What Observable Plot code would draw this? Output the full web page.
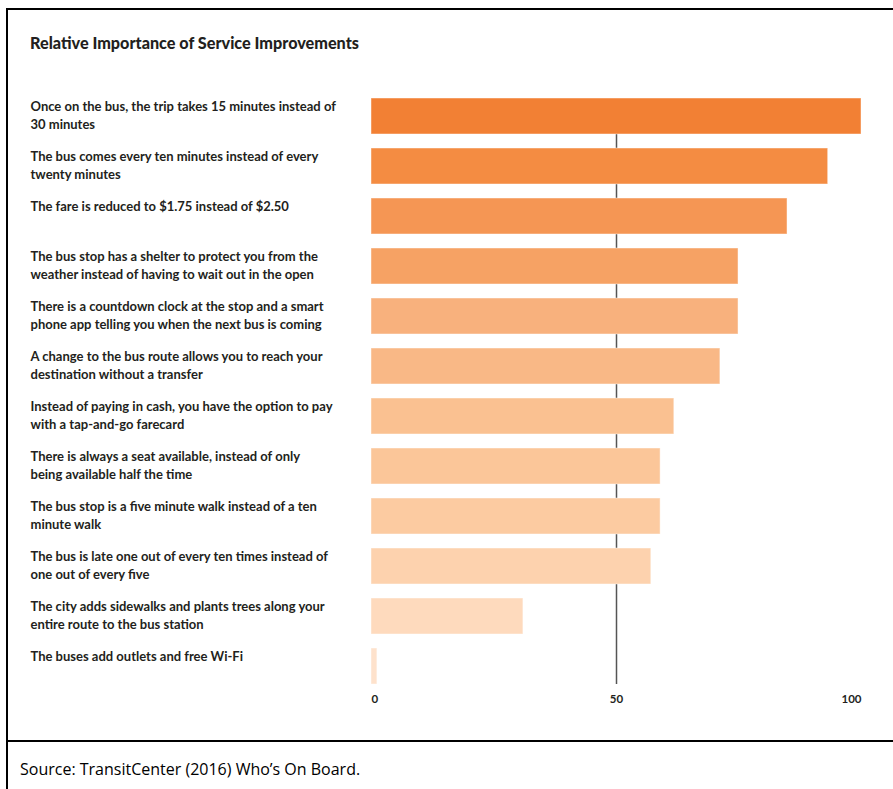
<!DOCTYPE html>
<html>
<head>
<meta charset="utf-8">
<script src="https://cdn.jsdelivr.net/npm/d3@7"></script>
<script src="https://cdn.jsdelivr.net/npm/@observablehq/plot@0.6"></script>
<style>
  html, body { margin: 0; padding: 0; background: #fff; }
  #page { position: relative; width: 893px; height: 789px; overflow: hidden; background: #fff; }
  .border-left { position: absolute; left: 6px; top: 8px; width: 2px; height: 781px; background: #000; }
  .border-top { position: absolute; left: 6px; top: 8px; width: 887px; height: 2px; background: #000; }
  .sep { position: absolute; left: 6px; top: 740px; width: 887px; height: 2px; background: #000; }
  #title { position: absolute; left: 30px; top: 33px; line-height: 20px; font-family: Lato, sans-serif; font-weight: 900; font-size: 16.2px; color: #231f20; }
  #source { position: absolute; left: 20px; top: 758px; font-family: "Open Sans", sans-serif; font-size: 16px; color: #000; }
  #chart { position: absolute; left: 0; top: 60px; }
</style>
</head>
<body>
<div id="page">
  <div class="border-left"></div>
  <div class="border-top"></div>
  <div class="sep"></div>
  <div id="title">Relative Importance of Service Improvements</div>
  <div id="chart"></div>
  <div id="source">Source: TransitCenter (2016) Who’s On Board.</div>
</div>
<script>
const labels = [
  "Once on the bus, the trip takes 15 minutes instead of\n30 minutes",
  "The bus comes every ten minutes instead of every\ntwenty minutes",
  "The fare is reduced to $1.75 instead of $2.50",
  "The bus stop has a shelter to protect you from the\nweather instead of having to wait out in the open",
  "There is a countdown clock at the stop and a smart\nphone app telling you when the next bus is coming",
  "A change to the bus route allows you to reach your\ndestination without a transfer",
  "Instead of paying in cash, you have the option to pay\nwith a tap-and-go farecard",
  "There is always a seat available, instead of only\nbeing available half the time",
  "The bus stop is a five minute walk instead of a ten\nminute walk",
  "The bus is late one out of every ten times instead of\none out of every five",
  "The city adds sidewalks and plants trees along your\nentire route to the bus station",
  "The buses add outlets and free Wi-Fi"
];
const values = [100, 93.2, 84.9, 74.9, 74.9, 71.2, 61.8, 59.0, 59.0, 57.1, 31.0, 1.2];
const colors = ["#F28034", "#F48C42", "#F59654", "#F6A264", "#F8B17D", "#F9B886",
                "#FAC191", "#FBC699", "#FCCBA1", "#FDD2AE", "#FEDABD", "#FEE2CC"];
const tickValues = [0, 50, 100];
const tickLabels = ["0", "50", "100"];

const data = labels.map((label, i) => ({label, value: values[i], color: colors[i]}));
const ticks = tickValues.map((v, i) => ({v, t: tickLabels[i], anchor: i === 0 ? "start" : i === tickValues.length - 1 ? "end" : "middle"}));

const chart = Plot.plot({
  width: 893,
  height: 654,
  marginLeft: 371,
  marginRight: 32,
  marginTop: 38,
  marginBottom: 30,
  style: {fontFamily: "Lato, sans-serif", background: "transparent", overflow: "visible"},
  x: {domain: [0, 100], axis: null},
  y: {domain: labels, axis: null, paddingInner: 0.28, paddingOuter: 0},
  marks: [
    Plot.ruleX([50], {stroke: "#555", strokeWidth: 1.5}),
    Plot.barX(data, {y: "label", x: "value", fill: "color", stroke: "#fff", strokeOpacity: 0.45, strokeWidth: 1}),
    Plot.text(data, {
      y: "label", text: "label", frameAnchor: "left", textAnchor: "start",
      dx: -341, dy: -18.5, lineAnchor: "top", lineHeight: 1.385,
      fontSize: 13, fontWeight: 700, fill: "#231f20"
    }),
    ...ticks.map(d => Plot.text([d], {
      x: "v", text: "t", frameAnchor: "bottom", dy: 18, textAnchor: d.anchor,
      fontSize: 11.5, fontWeight: 700, fill: "#231f20"
    }))
  ]
});
document.getElementById("chart").appendChild(chart);
</script>
</body>
</html>
